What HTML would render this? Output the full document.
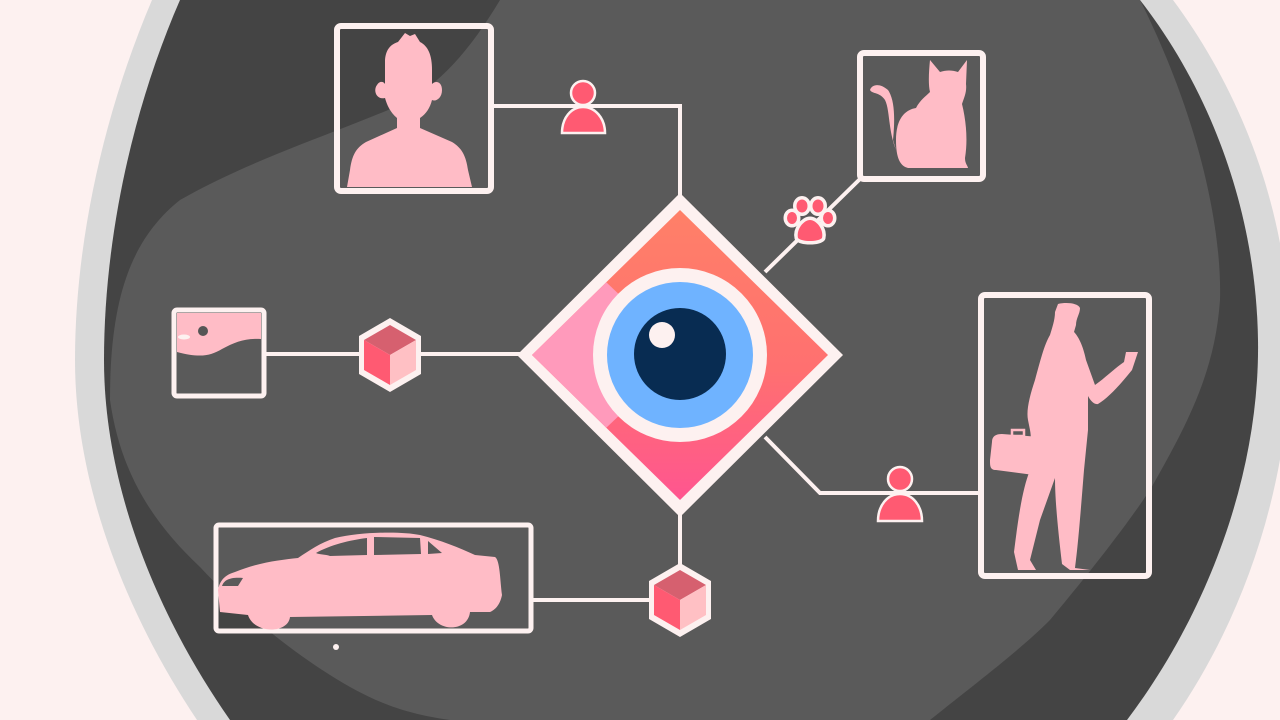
<!DOCTYPE html>
<html><head><meta charset="utf-8"><style>
html,body{margin:0;padding:0;background:#fdf1f0;width:1280px;height:720px;overflow:hidden;}
svg{display:block;}
</style></head><body>
<svg width="1280" height="720" viewBox="0 0 1280 720" xmlns="http://www.w3.org/2000/svg">
<defs>
<clipPath id="inner"><path d="M180,0 C132,110 104,240 104,360 C104,490 160,620 230,720 L1127,720 C1210,610 1260,470 1258,340 C1256,210 1210,90 1140,0 Z"/></clipPath>
<linearGradient id="dg" x1="0" y1="0" x2="0" y2="1">
<stop offset="0" stop-color="#ff8068"/><stop offset="0.55" stop-color="#ff7070"/><stop offset="1" stop-color="#ff5590"/>
</linearGradient>
<clipPath id="dclip"><polygon points="680,210 828,355 680,500 532,355"/></clipPath>
</defs>
<rect width="1280" height="720" fill="#fdf1f0"/>
<path d="M152,0 C105,110 75,240 75,360 C75,490 130,620 197,720 L1173,720 C1250,610 1292,470 1290,340 C1288,210 1240,90 1173,0 Z" fill="#d9d9d9"/>
<path d="M180,0 C132,110 104,240 104,360 C104,490 160,620 230,720 L1127,720 C1210,610 1260,470 1258,340 C1256,210 1210,90 1140,0 Z" fill="#444444"/>
<g clip-path="url(#inner)">
<path d="M500,0 C470,50 440,85 400,105 C330,135 250,160 180,200 C130,240 110,300 110,400 C120,470 150,520 200,567 C240,610 290,650 330,675 C370,700 400,713 450,720 L930,720 C980,680 1020,650 1050,620 C1100,560 1130,520 1150,490 C1190,420 1215,370 1220,300 C1222,230 1200,120 1140,0 Z" fill="#5a5a5a"/>
</g>
<!-- connectors -->
<g stroke="#fdf1f0" stroke-width="4" fill="none">
<polyline points="493,106 680,106 680,200"/>
<line x1="860" y1="179" x2="765" y2="272"/>
<line x1="265" y1="354" x2="520" y2="354"/>
<polyline points="680,510 680,600 533,600"/>
<polyline points="765,437 820,493 980,493"/>
</g>
<!-- diamond -->
<polygon points="680,193 843,355 680,517 517,355" fill="#fdf1f0"/>
<polygon points="680,210 828,355 680,500 532,355" fill="url(#dg)"/>
<g clip-path="url(#dclip)">
<polygon points="500,300 606,282 625,300 625,410 606,428 500,440" fill="#ff9abb"/>
</g>
<circle cx="680" cy="355" r="87" fill="#fdf1f0"/>
<circle cx="680" cy="355" r="73" fill="#6fb3ff"/>
<circle cx="680" cy="354" r="46" fill="#082c52"/>
<circle cx="662" cy="335" r="13" fill="#fdf1f0"/>
<!-- person box -->
<rect x="337" y="26" width="154" height="165" rx="4" fill="none" stroke="#fdf1f0" stroke-width="6"/>
<path d="M347,187 L350,170 C352,155 356,148 366,142 L397,128 L397,118 C390,112 387,105 385,98 C376,100 373,90 377,85 C380,80 384,82 385,84 L385,60 C386,48 392,44 398,42 L405,33 L410,36 L415,34 L420,42 C428,46 432,55 432,70 L432,84 C436,80 442,82 442,90 C442,98 436,102 432,100 C430,108 426,114 420,118 L420,128 L452,142 C462,148 466,156 468,170 L472,187 Z" fill="#ffbcc6"/>
<!-- user icon top -->
<g fill="#ff5a72" stroke="#fdf1f0" stroke-width="2.5">
<path d="M562,133 C562,118 571,107 583,107 C595,107 605,118 605,133 Z"/>
<circle cx="583" cy="93" r="12"/>
</g>
<!-- cat box -->
<rect x="860" y="53" width="123" height="126" rx="4" fill="none" stroke="#fdf1f0" stroke-width="6"/>
<path d="M930,60 L940,72 C946,70 952,70 958,72 L967,60 L966,84 C967,92 964,98 962,104 C966,120 968,140 965,158 C965,164 968,166 968,168 L908,168 C900,166 896,158 896,140 C896,120 904,110 916,108 C920,100 926,96 930,92 C928,84 929,70 930,60 Z M896,150 C888,130 890,110 885,100 C880,92 872,94 870,90 C872,84 880,83 888,90 C895,100 895,120 893,140 Z" fill="#ffbcc6"/>
<!-- paw -->
<g stroke="#fdf1f0" stroke-width="7" fill="#fdf1f0" stroke-linejoin="round">
<ellipse cx="802" cy="206" rx="5.5" ry="6.5"/><ellipse cx="818" cy="206" rx="5.5" ry="6.5"/>
<ellipse cx="792" cy="218" rx="5" ry="6"/><ellipse cx="828" cy="218" rx="5" ry="6"/>
<path d="M798,238 C796,229 804,220 810,220 C816,220 824,229 822,238 C818,242 802,242 798,238 Z"/>
</g>
<g fill="#ff5a72">
<ellipse cx="802" cy="206" rx="5.5" ry="6.5"/><ellipse cx="818" cy="206" rx="5.5" ry="6.5"/>
<ellipse cx="792" cy="218" rx="5" ry="6"/><ellipse cx="828" cy="218" rx="5" ry="6"/>
<path d="M798,238 C796,229 804,220 810,220 C816,220 824,229 822,238 C818,242 802,242 798,238 Z"/>
</g>
<!-- left box -->
<rect x="174" y="310" width="90" height="86" rx="3" fill="none" stroke="#fdf1f0" stroke-width="5"/>
<path d="M177,313 L261,313 L261,339 C245,338 235,342 222,349 C210,356 200,358 177,352 Z" fill="#ffbcc6"/>
<circle cx="203" cy="331" r="5" fill="#555"/>
<ellipse cx="184" cy="337" rx="6" ry="2.5" fill="#fdf1f0"/>
<!-- cube left -->
<g transform="translate(390,355)">
<polygon points="0,-37 31,-19 31,19 0,37 -31,19 -31,-19" fill="#fdf1f0"/>
<polygon points="0,-30 26,-15 0,0 -26,-15" fill="#d6606f"/>
<polygon points="-26,-15 0,0 0,30 -26,15" fill="#ff5a72"/>
<polygon points="26,-15 0,0 0,30 26,15" fill="#ffc0c4"/>
</g>
<!-- cube bottom -->
<g transform="translate(680,600)">
<polygon points="0,-37 31,-19 31,19 0,37 -31,19 -31,-19" fill="#fdf1f0"/>
<polygon points="0,-30 26,-15 0,0 -26,-15" fill="#d6606f"/>
<polygon points="-26,-15 0,0 0,30 -26,15" fill="#ff5a72"/>
<polygon points="26,-15 0,0 0,30 26,15" fill="#ffc0c4"/>
</g>
<!-- car box -->
<rect x="216" y="525" width="315" height="106" rx="3" fill="none" stroke="#fdf1f0" stroke-width="5"/>
<path d="M220,612 L218,590 C220,580 225,575 235,572 C260,562 280,560 298,558 C310,550 320,543 335,538 C360,532 400,531 420,535 C440,540 460,548 475,555 L495,557 C500,560 500,580 502,595 C500,605 495,610 490,612 L470,612 C468,632 438,632 432,615 L290,617 C288,634 254,634 248,615 Z" fill="#ffbcc6"/>
<path d="M316,553 C330,545 350,540 367,538 L367,555 L330,556 C325,554 320,555 316,553 Z M374,537 L420,538 L421,554 L374,555 Z M428,541 L442,553 L428,554 Z" fill="#5a5a5a"/>
<path d="M222,586 C224,580 230,577 243,578 L238,586 Z" fill="#5a5a5a"/>
<circle cx="336" cy="647" r="3" fill="#fdf1f0"/>
<!-- user icon right -->
<g fill="#ff5a72" stroke="#fdf1f0" stroke-width="2.5">
<path d="M878,521 C878,506 887,494 900,494 C913,494 922,506 922,521 Z"/>
<circle cx="900" cy="479" r="12"/>
</g>
<!-- walker box -->
<rect x="981" y="295" width="168" height="281" rx="4" fill="none" stroke="#fdf1f0" stroke-width="6"/>
<path d="M1058,304 C1066,302 1078,303 1080,308 C1080,314 1076,318 1076,325 L1074,332 C1078,336 1083,345 1086,360 L1095,385 C1105,378 1115,368 1124,362 L1126,352 L1138,352 L1132,370 C1120,385 1108,398 1098,404 C1094,405 1090,400 1088,396 L1088,430 L1084,470 C1080,520 1078,545 1075,568 L1090,570 L1070,570 L1062,564 C1058,530 1055,500 1055,478 L1040,520 L1030,560 L1036,570 L1018,570 L1014,552 C1018,520 1022,490 1030,470 L1035,455 L1030,458 C1030,452 1032,440 1030,430 L1028,420 C1026,410 1030,395 1035,380 C1040,362 1044,345 1050,335 C1052,328 1055,320 1055,312 Z" fill="#ffbcc6"/>
<path d="M992,442 C992,436 996,434 1002,434 L1040,437 C1044,438 1045,440 1045,446 L1042,470 C1042,475 1038,476 1034,475 L996,470 C990,470 990,466 990,460 Z" fill="#ffbcc6"/>
<rect x="1012" y="430" width="12" height="6" fill="none" stroke="#ffbcc6" stroke-width="2.5"/>
</svg>
</body></html>
